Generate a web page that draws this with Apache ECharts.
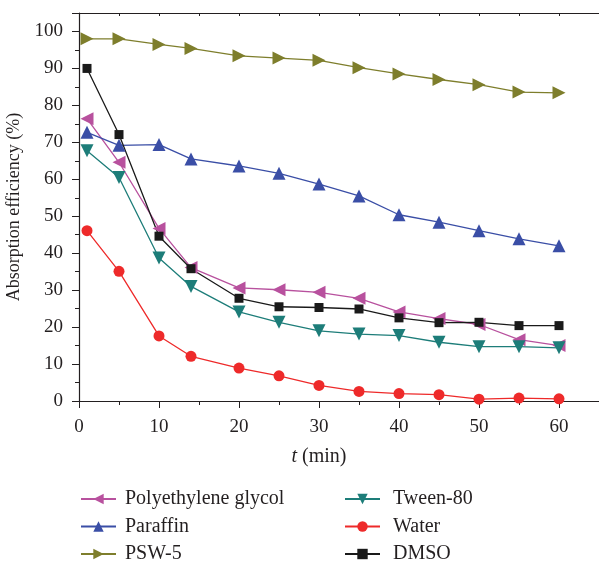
<!DOCTYPE html>
<html>
<head>
<meta charset="utf-8">
<title>Absorption efficiency</title>
<script src="https://cdn.jsdelivr.net/npm/echarts@6/dist/echarts.min.js"></script>
<style>
	html, body { margin: 0; padding: 0; background: #fff; }
	#line { width: 599px; height: 562px; }
</style>
</head>
<body>
<div id="line"></div>
<script>
	//时间点 (min)
	var TIME_LIST = [1, 5, 10, 14, 20, 25, 30, 35, 40, 45, 50, 55, 60];
	//各吸收剂的吸收效率 (%)
	var PEG_LIST = [76.4, 64.6, 46.7, 36.1, 30.6, 30.1, 29.4, 27.8, 24.1, 22.3, 20.7, 16.6, 15.0];
	var PARAFFIN_LIST = [72.7, 69.2, 69.4, 65.5, 63.6, 61.6, 58.7, 55.5, 50.4, 48.4, 46.1, 43.9, 42.0];
	var PSW5_LIST = [98.0, 98.0, 96.5, 95.4, 93.4, 92.8, 92.2, 90.2, 88.5, 87.0, 85.6, 83.6, 83.4];
	var TWEEN_LIST = [67.7, 60.5, 38.7, 31.0, 24.1, 21.3, 19.0, 18.1, 17.7, 15.9, 14.7, 14.7, 14.4];
	var WATER_LIST = [46.1, 35.1, 17.6, 12.1, 8.9, 6.8, 4.2, 2.6, 2.0, 1.7, 0.5, 0.8, 0.6];
	var DMSO_LIST = [90.0, 72.1, 44.6, 35.8, 27.8, 25.5, 25.3, 24.9, 22.5, 21.2, 21.3, 20.4, 20.4];

	var FONT = '"Liberation Serif", "DejaVu Serif", serif';
	var TEXT_COLOR = '#231F20';

	//把x/y数组配成点
	function toPoints(list) {
		var arr = [];
		for (var i = 0; i < TIME_LIST.length; i++) {
			arr.push([TIME_LIST[i], list[i]]);
		}
		return arr;
	}

	function makeSeries(name, list, color, symbol, size, rotate) {
		return {
			name: name, type: 'line', data: toPoints(list),
			xAxisIndex: 0, yAxisIndex: 0,
			symbol: symbol, symbolSize: size, symbolRotate: rotate || 0,
			showSymbol: true, smooth: false,
			itemStyle: { color: color },
			lineStyle: { color: color, width: 1.3 },
			emphasis: { disabled: true }
		};
	}

	var series = [
		makeSeries('Polyethylene glycol', PEG_LIST, '#B8519E', 'triangle', 13, 90),
		makeSeries('Paraffin', PARAFFIN_LIST, '#3A4EA6', 'triangle', 13, 0),
		makeSeries('PSW-5', PSW5_LIST, '#7E7E2C', 'triangle', 13, -90),
		makeSeries('Tween-80', TWEEN_LIST, '#1D7D79', 'triangle', 13, 180),
		makeSeries('Water', WATER_LIST, '#EE2A2A', 'circle', 11, 0),
		makeSeries('DMSO', DMSO_LIST, '#1A1A1A', 'rect', 9, 0)
	];

	//图例(两列)
	function makeLegend(left, names, gap) {
		return {
			orient: 'vertical',
			left: left, top: 489, height: 100,
			padding: 0,
			itemWidth: 35, itemHeight: 13, itemGap: 7.5,
			data: names,
			textStyle: { fontFamily: FONT, fontSize: 20, color: TEXT_COLOR, lineHeight: 20, padding: [0, 0, 0, gap] }
		};
	}

	var config = {
		animation: false,
		backgroundColor: '#fff',
		grid: { left: 79, top: 13, right: 0, bottom: 161, containLabel: false, outerBoundsMode: 'none' },
		legend: [
			makeLegend(80, ['Polyethylene glycol', 'Paraffin', 'PSW-5'], 4),
			makeLegend(344, ['Tween-80', 'Water', 'DMSO'], 8)
		],
		xAxis: [{
			type: 'value', min: 0, max: 65, interval: 10,
			name: '{i|t} (min)', nameLocation: 'middle', nameGap: 46,
			nameTextStyle: {
				fontFamily: FONT, fontSize: 20, color: TEXT_COLOR, padding: [0, 40, 0, 0],
				rich: { i: { fontFamily: FONT, fontSize: 20, fontStyle: 'italic', color: TEXT_COLOR } }
			},
			axisLine: { show: true, onZero: false, lineStyle: { color: TEXT_COLOR, width: 1.2 } },
			axisTick: { show: true, inside: false, length: 7, lineStyle: { color: TEXT_COLOR } },
			minorTick: { show: true, splitNumber: 2, length: 4, lineStyle: { color: TEXT_COLOR } },
			splitLine: { show: false },
			axisLabel: {
				fontFamily: FONT, fontSize: 19, color: TEXT_COLOR, margin: 17,
				formatter: function (v) { return v > 60 ? '' : v; }
			}
		}, {
			//顶部边框
			type: 'value', position: 'top', min: 0, max: 65, interval: 5,
			axisLine: { show: true, onZero: false, lineStyle: { color: TEXT_COLOR, width: 1.2 } },
			axisTick: { show: true, inside: true, length: 3, lineStyle: { color: TEXT_COLOR } },
			axisLabel: { show: false },
			splitLine: { show: false }
		}],
		yAxis: {
			type: 'value', min: 0, max: 105, interval: 10,
			name: 'Absorption efficiency (%)', nameLocation: 'middle', nameGap: 47, nameRotate: 90,
			nameTextStyle: { fontFamily: FONT, fontSize: 18, color: TEXT_COLOR },
			axisLine: { show: true, onZero: false, lineStyle: { color: TEXT_COLOR, width: 1.2 } },
			axisTick: { show: true, inside: false, length: 7, lineStyle: { color: TEXT_COLOR } },
			minorTick: { show: true, splitNumber: 2, length: 4, lineStyle: { color: TEXT_COLOR } },
			splitLine: { show: false },
			axisLabel: {
				fontFamily: FONT, fontSize: 19, color: TEXT_COLOR, margin: 16,
				formatter: function (v) { return v > 100 ? '' : v; }
			}
		},
		series: series
	};

	var myChart = echarts.init(document.getElementById('line'));
	myChart.setOption(config);
</script>
</body>
</html>
